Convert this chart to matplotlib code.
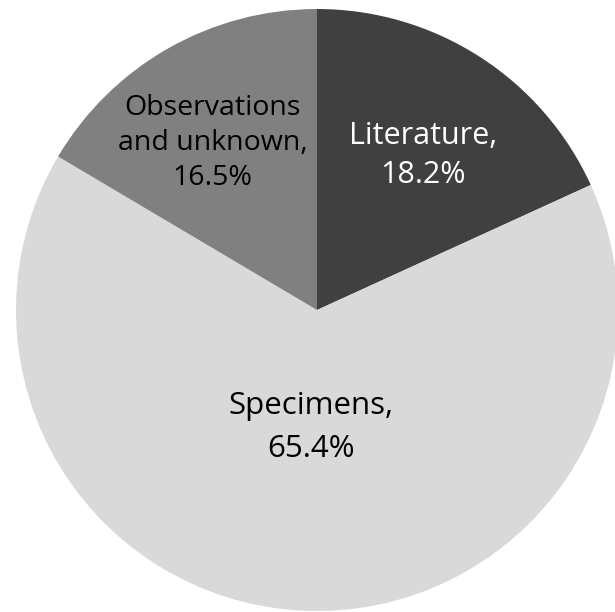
import numpy as np
import matplotlib
matplotlib.use("Agg")
import matplotlib.pyplot as plt

plt.rcParams['font.family'] = ['Open Sans', 'DejaVu Sans']

labels = ["Literature,\n18.2%", "Specimens,\n65.4%", "Observations\nand unknown,\n16.5%"]
shares = [18.2, 65.4, 16.5]
colors = ["#404040", "#d9d9d9", "#808080"]
text_colors = ["white", "black", "black"]
label_r = [0.622, 0.39, 0.655]
label_turn = [-1.6, 0, 2.3]     # small angle nudges, degrees
label_size = [22, 22.5, 20.5]
label_spacing = [1.42, 1.55, 1.33]

W, H = 615, 612
cx, cy, R = 317, 310, 301   # pie centre and radius in pixels

fig = plt.figure(figsize=(W / 100, H / 100), dpi=100)
ax = fig.add_axes([0, 0, 1, 1])
wedges, _ = ax.pie(shares, colors=colors, startangle=90, counterclock=False,
                   radius=1, wedgeprops=dict(linewidth=0))
ax.set_aspect('auto')
ax.set_xlim(-cx / R, (W - cx) / R)
ax.set_ylim(-(H - cy) / R, cy / R)
ax.axis('off')

for w, lab, tc, r, dt, fs, ls in zip(wedges, labels, text_colors, label_r,
                                     label_turn, label_size, label_spacing):
    ang = np.deg2rad((w.theta1 + w.theta2) / 2 + dt)
    ax.text(r * np.cos(ang), r * np.sin(ang), lab, ha='center', va='center',
            color=tc, fontsize=fs, linespacing=ls)

fig.savefig("out.png", dpi=100)
